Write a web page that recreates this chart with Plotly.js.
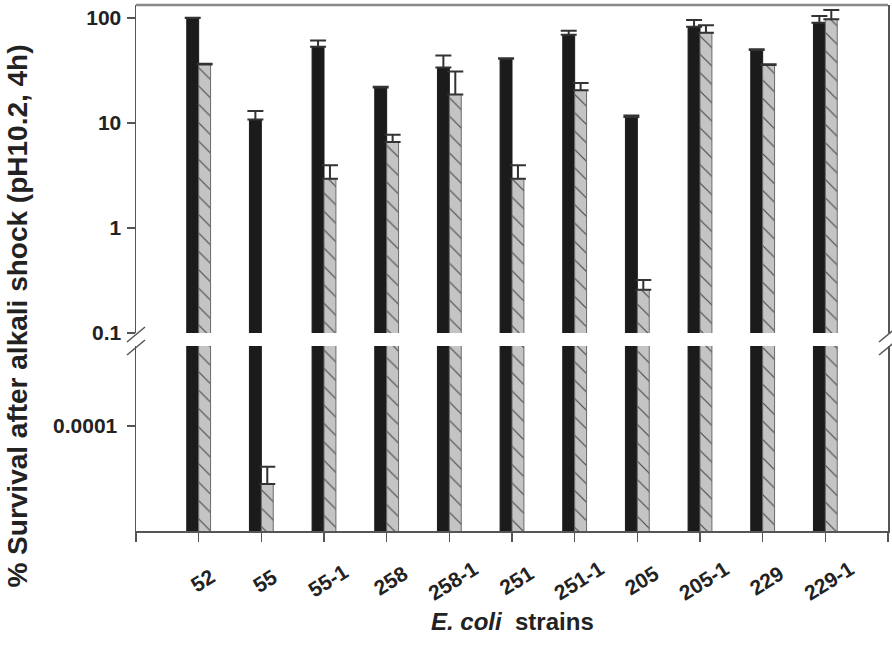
<!DOCTYPE html>
<html>
<head>
<meta charset="utf-8">
<script src="https://cdn.plot.ly/plotly-3.0.1.min.js"></script>
<style>html,body{margin:0;padding:0;background:#fff;}#chart{width:892px;height:653px;}</style>
</head>
<body>
<div id="chart"></div>
<script>
// ---- data ----
const strains = ["52", "55", "55-1", "258", "258-1", "251", "251-1", "205", "205-1", "229", "229-1"];
const survivalBlack = [100, 10.8, 53.2, 21.8, 33.8, 40.9, 69.3, 11.4, 82.6, 49.5, 90.2];
const errorBlack    = [0.5, 2.2, 8.0, 0.4, 10.2, 0.5, 6.3, 0.4, 13.1, 1.0, 14.3];
const survivalGray  = [36.1, 0.000028, 2.94, 6.59, 18.7, 2.94, 20.5, 0.258, 72.4, 35.6, 97.2];
const errorGray     = [0.5, 0.000013, 1.03, 1.16, 12.3, 1.03, 3.6, 0.061, 12.8, 0.6, 21.8];
const upperTicks = [0.1, 1, 10, 100];
const upperTickText = ["0.1", "1", "10", "100"];
const lowerTicks = [0.0001];
const lowerTickText = ["0.0001"];

const xIdx = strains.map((s, i) => i);
const FONT = "Liberation Sans, Arial, Helvetica, sans-serif";
const AX = "#555555";

function barTrace(vals, errs, yaxis, black) {
  return {
    type: "bar",
    x: xIdx,
    y: vals,
    yaxis: yaxis,
    showlegend: false,
    hoverinfo: "x+y",
    marker: black
      ? { color: "#1b1b1b", line: { color: "#1b1b1b", width: 1 } }
      : { color: "#c4c4c4", line: { color: "#6a6a6a", width: 1 },
          pattern: { shape: "\\", fgcolor: "#4a4a4a", bgcolor: "#c4c4c4", size: 13, solidity: 0.09 } },
    error_y: { type: "data", symmetric: false, array: errs, arrayminus: errs.map(() => 0),
               color: "#333333", thickness: 2, width: 8 }
  };
}

const traces = [
  barTrace(survivalBlack, errorBlack, "y2", true),
  barTrace(survivalGray, errorGray, "y2", false),
  barTrace(survivalBlack, errorBlack, "y", true),
  barTrace(survivalGray, errorGray, "y", false)
];

// axis break marks (decoration)
const breakY = 0.3631;
function breakMarks(xp) {
  return [
    { type: "line", xref: "paper", yref: "paper", xsizemode: "pixel", ysizemode: "pixel",
      xanchor: xp, yanchor: breakY, x0: -9, x1: 9, y0: -2, y1: 13, line: { color: AX, width: 1.5 } },
    { type: "line", xref: "paper", yref: "paper", xsizemode: "pixel", ysizemode: "pixel",
      xanchor: xp, yanchor: breakY, x0: -9, x1: 9, y0: -15, y1: 0, line: { color: AX, width: 1.5 } }
  ];
}

const annotations = strains.map((s, i) => ({
  x: i, xref: "x", y: -0.094, yref: "paper", text: s, showarrow: false,
  textangle: -32, xanchor: "center", yanchor: "middle", xshift: 4,
  font: { family: FONT, size: 21, color: "#222", weight: "bold" }
}));
annotations.push({
  x: -0.158, xref: "paper", y: 0.408, yref: "paper", showarrow: false,
  text: "% Survival after alkali shock (pH10.2, 4h)", textangle: -90,
  xanchor: "center", yanchor: "middle",
  font: { family: FONT, size: 28, color: "#222", weight: "bold" }
});
annotations.push({
  x: 0.5, xref: "paper", y: -0.173, yref: "paper", showarrow: false,
  text: "<i>E. coli</i>  strains", xanchor: "center", yanchor: "middle",
  font: { family: FONT, size: 24, color: "#222", weight: "bold" }
});

const layout = {
  width: 892, height: 653,
  margin: { l: 136, r: 4, t: 5, b: 122 },
  paper_bgcolor: "#ffffff", plot_bgcolor: "#ffffff",
  barmode: "group", bargap: 0.62, bargroupgap: 0,
  xaxis: {
    type: "linear", range: [-1, 11], anchor: "y",
    tickmode: "array", tickvals: [-1, 0, 1, 2, 3, 4, 5, 6, 7, 8, 9, 10, 11],
    showticklabels: false, ticks: "outside", ticklen: 9, tickwidth: 1.5, tickcolor: AX,
    showline: true, linecolor: AX, linewidth: 1.5, showgrid: false, zeroline: false
  },
  yaxis: {
    type: "log", range: [-5, -3.238], domain: [0, 0.3517], anchor: "x",
    tickmode: "array", tickvals: lowerTicks, ticktext: lowerTickText,
    ticks: "outside", ticklen: 8, tickwidth: 1.5, tickcolor: AX, ticklabelstandoff: 5,
    tickfont: { family: FONT, size: 21, color: "#222", weight: "bold" },
    showline: true, linecolor: AX, linewidth: 1.5, mirror: true, showgrid: false, zeroline: false
  },
  yaxis2: {
    type: "log", range: [-1, 2.124], domain: [0.3764, 1], anchor: "x",
    tickmode: "array", tickvals: upperTicks, ticktext: upperTickText,
    ticks: "outside", ticklen: 8, tickwidth: 1.5, tickcolor: AX, ticklabelstandoff: 1,
    tickfont: { family: FONT, size: 21, color: "#222", weight: "bold" },
    showline: true, linecolor: AX, linewidth: 1.5, mirror: true, showgrid: false, zeroline: false
  },
  shapes: [
    { type: "line", xref: "paper", yref: "paper", x0: 0, x1: 1, y0: 1, y1: 1, line: { color: "#888", width: 2.5 } }
  ].concat(breakMarks(0), breakMarks(1)),
  annotations: annotations
};

Plotly.newPlot("chart", traces, layout, { displayModeBar: false, staticPlot: true });
</script>
</body>
</html>
